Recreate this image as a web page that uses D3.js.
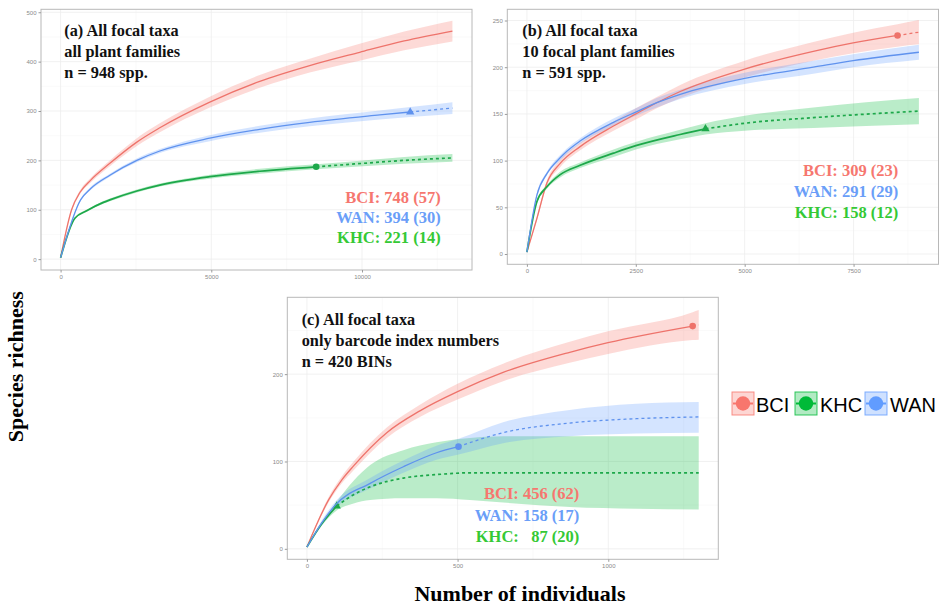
<!DOCTYPE html>
<html>
<head>
<meta charset="utf-8">
<script src="https://cdn.jsdelivr.net/npm/d3@7"></script>
<style>
body { margin: 0; background: #fff; }
svg { display: block; }
.serif { font-family: "Liberation Serif", "Times New Roman", serif; font-weight: bold; }
.tick text { font-family: "Liberation Sans", Arial, sans-serif; font-size: 6px; fill: #8a8a8a; }
.tick line { stroke: #9a9a9a; }
</style>
</head>
<body>
<svg id="chart" width="939" height="606"></svg>
<script>
// sites, in legend order
var sites = ["BCI", "KHC", "WAN"];
var lineColor = { BCI: "#EE736B", KHC: "#1DA84A", WAN: "#5F92EE" };
var fillColor = { BCI: "#F8766D", KHC: "#00BA38", WAN: "#619CFF" };
var textColor = { BCI: "#F6776F", KHC: "#35C935", WAN: "#6A9EF8" };

// rows: [individuals, estimate, lower CI, upper CI]
// (a) all plant families
var aBCI = [[0,3,3,3],[365,100,97,103],[640,135,131,139],[1000,160,155,165],[1635,194,188,200],
  [2530,237,229,245],[3292,266,257,275],[4950,318,307,329],[6608,360,347,373],[8266,392,378,406],
  [9924,419,402,436],[11400,442,423,461],[13000,462,441,483]];
var aKHC = [[0,3,3,3],[474,83,81,85],[865,98,96,100],[1420,115,112,118],[1635,120,117,123],
  [2530,138,135,141],[3292,150,147,153],[4950,167,163,171],[6608,178,173,183],[8480,187,182,192],
  [10030,194,188,200],[11400,200,193,207],[13000,205,197,213]];
var aWAN = [[0,3,3,3],[663,120,118,122],[1000,143,140,146],[1635,170,167,173],[2530,200,196,204],
  [3292,219,215,223],[4950,245,239,251],[6608,263,256,270],[8266,277,269,285],[10587,292,283,301],
  [11600,298,288,308],[13000,306,294,318]];

// (b) 10 focal plant families
var bBCI = [[0,2,2,2],[229,38,36,40],[459,76,73,79],[764,97,93,101],[1222,115,111,119],[1988,137,132,142],
  [2500,150,144,156],[2982,162,156,168],[3520,174,167,181],[5000,198,189,207],[6575,217,207,227],
  [7490,226,215,237],[8510,234,222,246],[9000,237.5,224.5,250.5]];
var bKHC = [[0,2,2,2],[229,56,54,58],[459,72,70,74],[764,85,82,88],[1222,95,92,98],[1988,108,104,112],
  [2500,116,112,120],[3517,128,123,133],[4100,134,128,140],[5000,140,132,148],[6575,146,135,157],
  [9000,153,139,167]];
var bWAN = [[0,2,2,2],[229,63,61,65],[459,86,84,88],[764,103,100,106],[917,110,107,113],[1222,121,118,124],
  [1988,141,137,145],[2500,152,148,156],[2982,162,157,167],[3520,171,166,176],[5000,188,182,194],
  [6575,200,193,207],[7490,207,200,214],[9000,216,208,224]];

// (c) only barcode index numbers
var cBCI = [[0,2,2,2],[72,56,53,59],[116,79,75,83],[155,95,90,100],[265,133,127,139],[375,158,151,165],
  [500,180,171,189],[651,202,192,212],[872,225,213,237],[999,236,223,249],[1280,255,239,271],
  [1300,256.5,239.5,273.5]];
var cKHC = [[0,2,2,2],[50,29,27,31],[99,49,44,54],[155,62,52,78],[210,71,56,96],[320,81,58,113],
  [430,85,58,122],[541,87,56,127],[651,87,53,129],[872,87,48,129],[1093,87,46,129],[1300,87,45,129]];
var cWAN = [[0,2,2,2],[50,30,27,33],[94,50,46,54],[210,75,69,81],[320,94,87,101],[430,110,102,118],
  [503,117,108,126],[651,133,121,145],[872,144,129,159],[1093,149,132,166],[1300,151,133,168]];

// observed sample sizes (end of the solid part), order BCI, KHC, WAN
var obsA = [13000, 8480, 11600];
var obsB = [8510, 4100, 9000];
var obsC = [1280, 99, 503];
var markA = [null, "circle", "triangle"];
var markB = ["circle", "triangle", null];
var markC = ["circle", "triangle", "circle"];

// tick labels
var xTicksA = [0, 5000, 10000], yTicksA = [0, 100, 200, 300, 400, 500];
var xTicksB = [0, 2500, 5000, 7500], yTicksB = [0, 50, 100, 150, 200, 250];
var xTicksC = [0, 500, 1000], yTicksC = [0, 100, 200];

// panel texts
var titleA = ["(a) All focal taxa", "all plant families", "n = 948 spp."];
var titleB = ["(b) All focal taxa", "10 focal plant families", "n = 591 spp."];
var titleC = ["(c) All focal taxa", "only barcode index numbers", "n = 420 BINs"];
// order BCI, WAN, KHC as printed
var statSites = ["BCI", "WAN", "KHC"];
var statsA = ["BCI: 748 (57)", "WAN: 394 (30)", "KHC: 221 (14)"];
var statsB = ["BCI: 309 (23)", "WAN: 291 (29)", "KHC: 158 (12)"];
var statsC = ["BCI: 456 (62)", "WAN: 158 (17)", "KHC:   87 (20)"];

var svg = d3.select("#chart");

var panels = [
  { left: 41, right: 472, top: 9.3, bottom: 270, xDomain: [-650, 13650], yDomain: [-22, 506],
    series: [aBCI, aKHC, aWAN], obs: obsA, marks: markA, xTicks: xTicksA, yTicks: yTicksA,
    title: titleA, titleX: 64.3, titleY: 35.7, stats: statsA, statX: 440.7, statY: 202.7, statStep: 20.3 },
  { left: 507.3, right: 938.5, top: 9.3, bottom: 264.3, xDomain: [-450, 9450], yDomain: [-11, 262],
    series: [bBCI, bKHC, bWAN], obs: obsB, marks: markB, xTicks: xTicksB, yTicks: yTicksB,
    title: titleB, titleX: 522.3, titleY: 35.7, stats: statsB, statX: 898.3, statY: 175.7, statStep: 21.3 },
  { left: 287.3, right: 718.3, top: 297.3, bottom: 559.3, xDomain: [-65, 1365], yDomain: [-12, 288],
    series: [cBCI, cKHC, cWAN], obs: obsC, marks: markC, xTicks: xTicksC, yTicks: yTicksC,
    title: titleC, titleX: 301.7, titleY: 325, stats: statsC, statX: 579.3, statY: 499.3, statStep: 21.2 }
];

function midpoints(t, lo, hi) {
  var step = t[1] - t[0], out = [];
  for (var v = t[0] - step / 2; v <= hi; v += step) if (v >= lo) out.push(v);
  return out;
}

function drawPanel(p) {
  var g = svg.append("g");
  var x = d3.scaleLinear().domain(p.xDomain).range([p.left, p.right]);
  var y = d3.scaleLinear().domain(p.yDomain).range([p.bottom, p.top]);

  g.append("rect").attr("x", p.left).attr("y", p.top)
    .attr("width", p.right - p.left).attr("height", p.bottom - p.top).attr("fill", "#fff");

  // grid
  var grid = g.append("g").attr("fill", "none");
  grid.selectAll(".xm").data(midpoints(p.xTicks, p.xDomain[0], p.xDomain[1])).enter().append("line")
    .attr("x1", x).attr("x2", x).attr("y1", p.top).attr("y2", p.bottom)
    .attr("stroke", "#f6f6f6").attr("stroke-width", 0.6);
  grid.selectAll(".ym").data(midpoints(p.yTicks, p.yDomain[0], p.yDomain[1])).enter().append("line")
    .attr("y1", y).attr("y2", y).attr("x1", p.left).attr("x2", p.right)
    .attr("stroke", "#f6f6f6").attr("stroke-width", 0.6);
  grid.selectAll(".xM").data(p.xTicks).enter().append("line")
    .attr("x1", x).attr("x2", x).attr("y1", p.top).attr("y2", p.bottom)
    .attr("stroke", "#eeeeee").attr("stroke-width", 0.8);
  grid.selectAll(".yM").data(p.yTicks).enter().append("line")
    .attr("y1", y).attr("y2", y).attr("x1", p.left).attr("x2", p.right)
    .attr("stroke", "#eeeeee").attr("stroke-width", 0.8);

  var area = d3.area().curve(d3.curveMonotoneX)
    .x(function(d) { return x(d[0]); })
    .y0(function(d) { return y(d[2]); })
    .y1(function(d) { return y(d[3]); });
  var line = d3.line().curve(d3.curveMonotoneX)
    .x(function(d) { return x(d[0]); })
    .y(function(d) { return y(d[1]); });

  sites.forEach(function(s, i) {
    g.append("path").attr("d", area(p.series[i]))
      .attr("fill", fillColor[s]).attr("fill-opacity", 0.27);
  });

  sites.forEach(function(s, i) {
    var d = p.series[i], n = p.obs[i];
    var solid = d.filter(function(r) { return r[0] <= n; });
    var dashed = d.filter(function(r) { return r[0] >= n; });
    var w = s === "KHC" ? 1.7 : 1.3;
    g.append("path").attr("d", line(solid)).attr("fill", "none")
      .attr("stroke", lineColor[s]).attr("stroke-width", w);
    if (dashed.length > 1) {
      g.append("path").attr("d", line(dashed)).attr("fill", "none")
        .attr("stroke", lineColor[s]).attr("stroke-width", w).attr("stroke-dasharray", "3,3");
    }
    var m = p.marks[i];
    var pt = d.filter(function(r) { return r[0] === n; })[0];
    if (m && pt) {
      var sym = m === "triangle" ? d3.symbolTriangle : d3.symbolCircle;
      g.append("path").attr("d", d3.symbol().type(sym).size(m === "triangle" ? 30 : 34)())
        .attr("transform", "translate(" + x(pt[0]) + "," + y(pt[1]) + ")")
        .attr("fill", lineColor[s]);
    }
  });

  g.append("rect").attr("x", p.left).attr("y", p.top)
    .attr("width", p.right - p.left).attr("height", p.bottom - p.top)
    .attr("fill", "none").attr("stroke", "#b8b8b8").attr("stroke-width", 1);

  var ax = g.append("g").attr("transform", "translate(0," + p.bottom + ")")
    .call(d3.axisBottom(x).tickValues(p.xTicks).tickSize(2.5).tickPadding(2).tickFormat(d3.format("d")));
  ax.select(".domain").remove();
  var ay = g.append("g").attr("transform", "translate(" + p.left + ",0)")
    .call(d3.axisLeft(y).tickValues(p.yTicks).tickSize(2.5).tickPadding(2).tickFormat(d3.format("d")));
  ay.select(".domain").remove();

  g.selectAll(".ttl").data(p.title).enter().append("text")
    .attr("class", "serif").attr("x", p.titleX)
    .attr("y", function(d, i) { return p.titleY + i * 21; })
    .attr("font-size", 16.3).attr("fill", "#111").text(function(d) { return d; });

  g.selectAll(".stat").data(p.stats).enter().append("text")
    .attr("class", "serif").attr("x", p.statX)
    .attr("y", function(d, i) { return p.statY + i * p.statStep; })
    .attr("text-anchor", "end").attr("font-size", 16.5)
    .style("white-space", "pre").attr("xml:space", "preserve")
    .attr("fill", function(d, i) { return textColor[statSites[i]]; })
    .text(function(d) { return d; });
}

panels.forEach(drawPanel);

// axis titles
svg.append("text").attr("class", "serif")
  .attr("transform", "translate(23,366.7) rotate(-90)")
  .attr("text-anchor", "middle").attr("font-size", 22).attr("fill", "#000")
  .text("Species richness");
svg.append("text").attr("class", "serif")
  .attr("x", 520).attr("y", 601)
  .attr("text-anchor", "middle").attr("font-size", 22).attr("fill", "#000")
  .text("Number of individuals");

// legend
var legX = [732, 795, 865], legTextX = [756, 820, 890];
var leg = svg.append("g");
sites.forEach(function(s, i) {
  var k = leg.append("g").attr("transform", "translate(" + legX[i] + ",392)");
  k.append("rect").attr("width", 22).attr("height", 23)
    .attr("fill", fillColor[s]).attr("fill-opacity", 0.3)
    .attr("stroke", fillColor[s]).attr("stroke-opacity", 0.8).attr("stroke-width", 1);
  k.append("line").attr("x1", 1).attr("x2", 21).attr("y1", 11.5).attr("y2", 11.5)
    .attr("stroke", fillColor[s]).attr("stroke-width", 2);
  k.append("circle").attr("cx", 11).attr("cy", 11.5).attr("r", 7.2).attr("fill", fillColor[s]);
  leg.append("text").attr("x", legTextX[i]).attr("y", 411.5)
    .attr("font-family", "Liberation Sans, Arial, sans-serif").attr("font-size", 20)
    .attr("fill", "#000").text(s);
});
</script>
</body>
</html>
